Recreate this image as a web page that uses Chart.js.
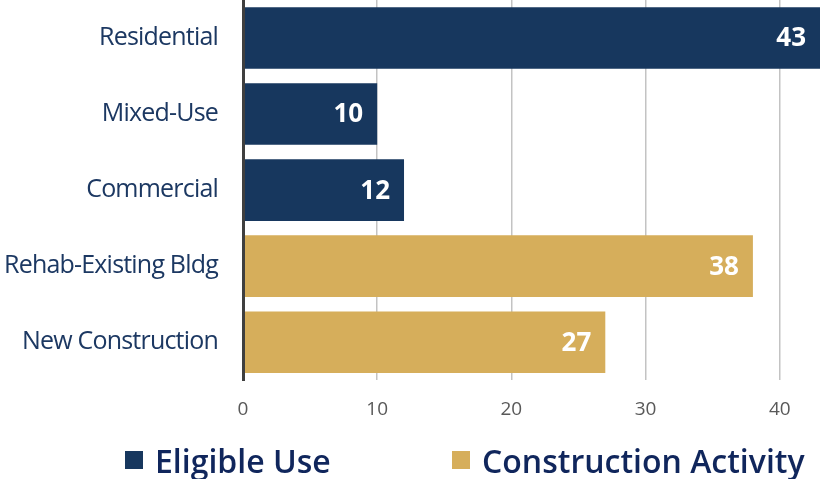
<!DOCTYPE html>
<html>
<head>
<meta charset="utf-8">
<script src="https://cdn.jsdelivr.net/npm/chart.js@4.4.1/dist/chart.umd.min.js"></script>
<style>
  html, body { margin: 0; padding: 0; background: #fff; }
  #wrap { position: relative; width: 820px; height: 479px; }
  #legend { position: absolute; left: 0; top: 440px; width: 820px; height: 40px; font-family: 'Open Sans', sans-serif; }
  .item { position: absolute; top: 0; height: 40px; display: flex; align-items: center; font-size: 32px; font-weight: 600; color: #10265c; white-space: nowrap; }
  .box { width: 18px; height: 18px; margin-right: 12px; }
</style>
</head>
<body>
<div id="wrap">
  <canvas id="chart"></canvas>
  <div id="legend"></div>
</div>
<script>
// データ
const categories = ['Residential', 'Mixed-Use', 'Commercial', 'Rehab-Existing Bldg', 'New Construction'];
const eligibleUse = [43, 10, 12, null, null];
const constructionActivity = [null, null, null, 38, 27];
const xTicks = [0, 10, 20, 30, 40];

const NAVY = '#17375E';
const GOLD = '#D6AE5B';

Chart.defaults.font.family = "'Open Sans', sans-serif";

// 棒の右端に数値を描く
const barValues = {
    id: 'barValues',
    afterDatasetsDraw(chart) {
        const ctx = chart.ctx;
        ctx.save();
        ctx.fillStyle = '#fff';
        ctx.font = "bold 26px 'Open Sans', sans-serif";
        ctx.textAlign = 'right';
        ctx.textBaseline = 'middle';
        chart.data.datasets.forEach((ds, i) => {
            chart.getDatasetMeta(i).data.forEach((bar, j) => {
                const v = ds.data[j];
                if (v == null) return;
                ctx.fillText(String(v), bar.x - 14, bar.y + 1);
            });
        });
        ctx.restore();
    }
};

// カテゴリ名を少し詰めて描く
const tightLabels = {
    id: 'tightLabels',
    beforeDraw(chart) {
        const y = chart.scales.y;
        if (!y || y._tight) return;
        const orig = y.drawLabels.bind(y);
        y.drawLabels = function (area) {
            chart.ctx.save();
            chart.ctx.letterSpacing = '-0.8px';
            orig(area);
            chart.ctx.restore();
        };
        y._tight = true;
    }
};

const chart = new Chart(document.getElementById('chart'), {
    type: 'bar',
    data: {
        labels: categories,
        datasets: [
            { label: 'Eligible Use', data: eligibleUse, backgroundColor: NAVY },
            { label: 'Construction Activity', data: constructionActivity, backgroundColor: GOLD }
        ]
    },
    options: {
        indexAxis: 'y',
        responsive: true,
        maintainAspectRatio: false,
        animation: false,
        barPercentage: 0.81,
        categoryPercentage: 1,
        layout: { padding: { top: 0, right: 0, bottom: 40, left: 0 } },
        plugins: {
            legend: { display: false },
            tooltip: { enabled: false }
        },
        scales: {
            x: {
                stacked: true,
                min: 0,
                max: 43,
                afterBuildTicks: (s) => { s.ticks = xTicks.map(v => ({ value: v })); },
                grid: { color: '#c3c3c3', lineWidth: 1.5, drawTicks: false },
                border: { display: false },
                ticks: { color: '#595959', font: { size: 19 }, padding: 18 }
            },
            y: {
                stacked: true,
                afterFit: (s) => {
                    s.width = 243;
                    s.paddingTop = 0;
                    s.paddingBottom = 0;
                },
                grid: { display: false, drawTicks: false },
                border: { display: true, color: '#3f3f3f', width: 3, z: 1 },
                ticks: { color: '#1c3862', font: { size: 25 }, padding: 25 }
            }
        }
    },
    plugins: [barValues, tightLabels]
});

// 凡例（HTML）
const legendItems = [
    { text: 'Eligible Use', color: NAVY, left: 125 },
    { text: 'Construction Activity', color: GOLD, left: 452 }
];
const legendEl = document.getElementById('legend');
legendItems.forEach(it => {
    const d = document.createElement('div');
    d.className = 'item';
    d.style.left = it.left + 'px';
    d.innerHTML = '<span class="box" style="background:' + it.color + '"></span><span>' + it.text + '</span>';
    legendEl.appendChild(d);
});
</script>
</body>
</html>
